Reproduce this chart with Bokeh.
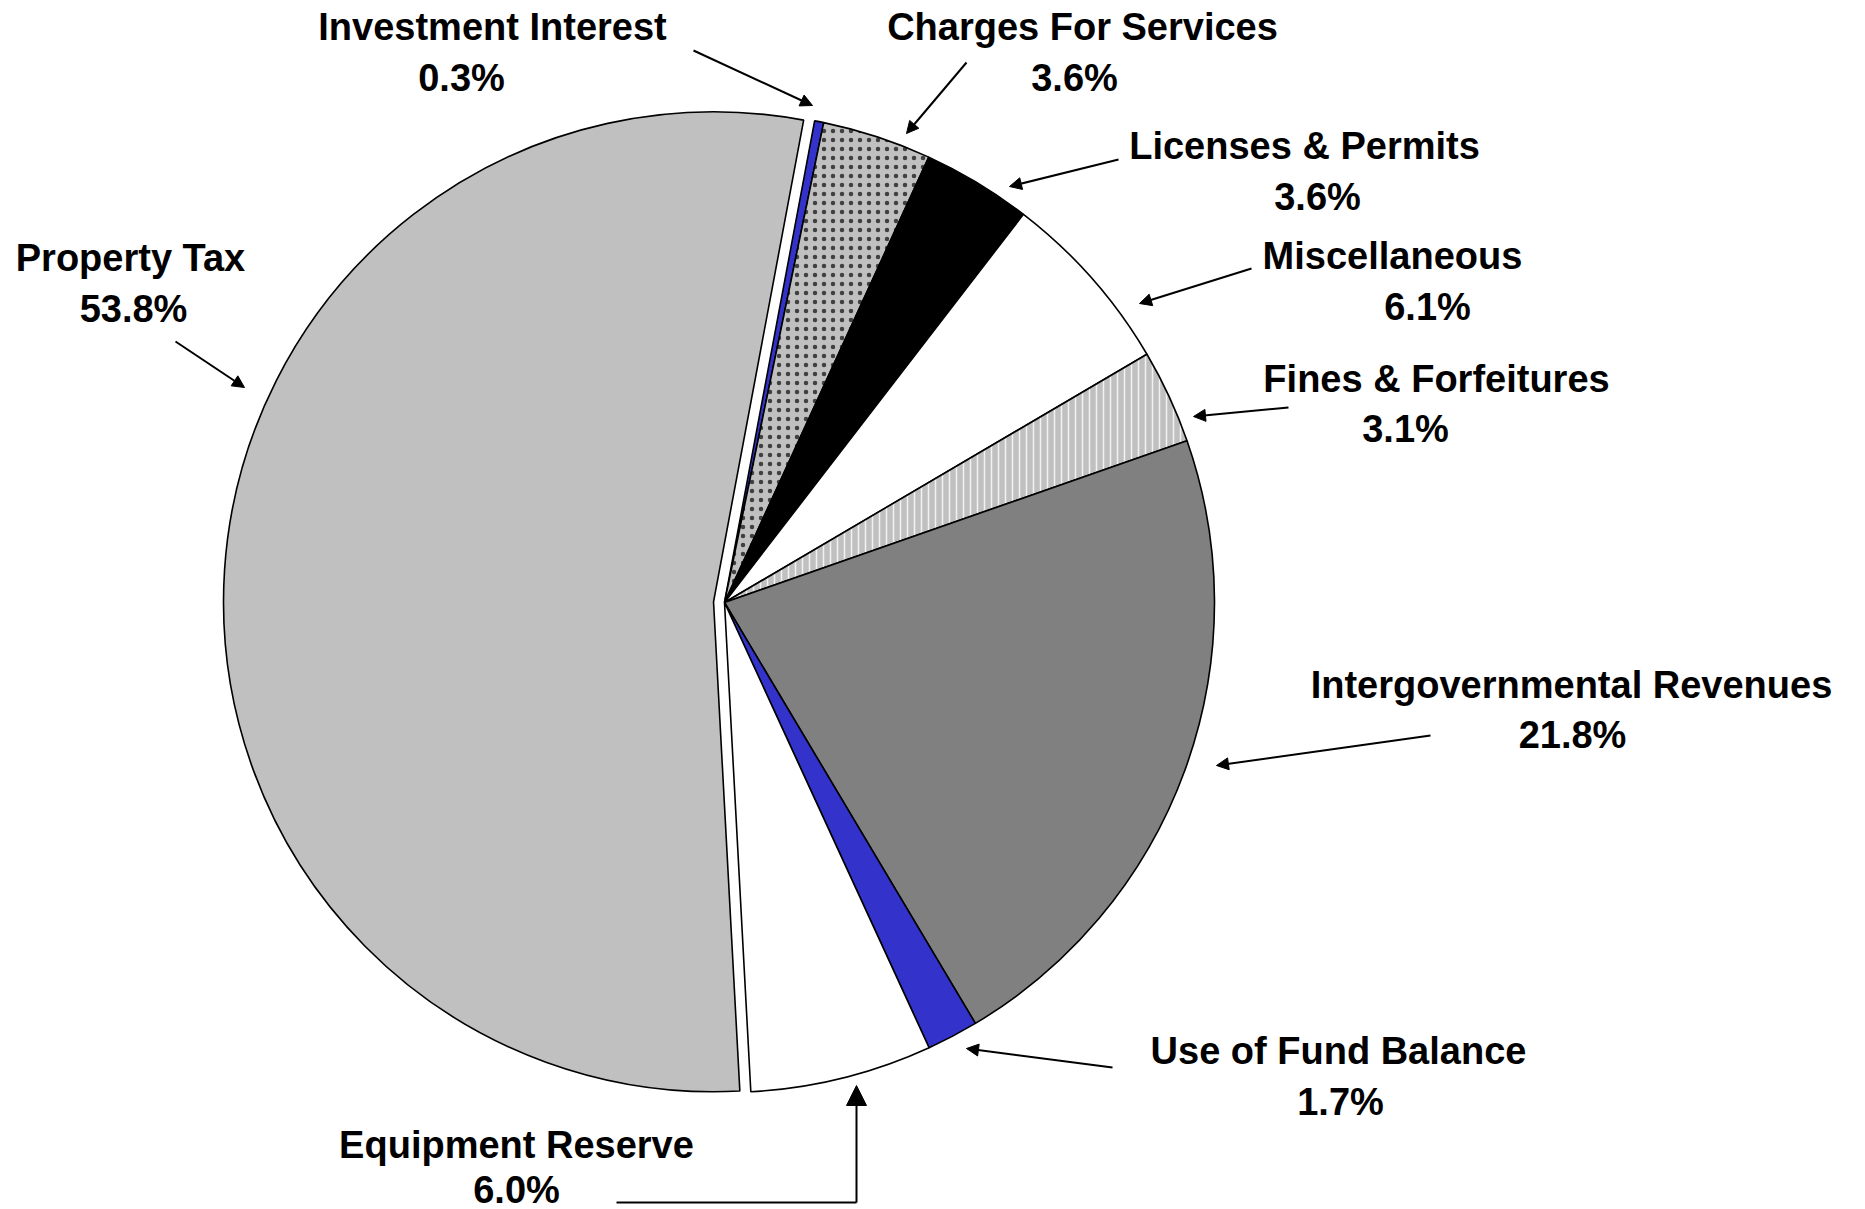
import numpy as np
from bokeh.plotting import figure
from bokeh.models import Range1d, Arrow, NormalHead, ColumnDataSource
from bokeh.core.properties import value
from bokeh.embed import file_html
from bokeh.resources import INLINE

# ---------------- data ----------------
categories = ["Investment Interest", "Charges For Services", "Licenses & Permits",
              "Miscellaneous", "Fines & Forfeitures", "Intergovernmental Revenues",
              "Use of Fund Balance", "Equipment Reserve", "Property Tax"]
values = [0.3, 3.6, 3.6, 6.1, 3.1, 21.8, 1.7, 6.0, 53.8]

# ---------------- styles ----------------
fills = ["#3333CC", "#C0C0C0", "#000000", "#FFFFFF", "#C0C0C0",
         "#808080", "#3333CC", "#FFFFFF", "#C0C0C0"]
hatches = [" ", "dot", " ", " ", "vertical_line", " ", " ", " ", " "]
hatch_colors = ["black", "#404040", "black", "black", "#F2F2F2",
                "black", "black", "black", "black"]
hatch_scales = [8, 9, 8, 8, 7, 8, 8, 8, 8]
hatch_weights = [1, 0.6, 1, 1, 1.5, 1, 1, 1, 1]
explode = [0, 0, 0, 0, 0, 0, 0, 0, 11]

W, H = 1865, 1209
CX, CY, R = 724, 602, 490          # screen px
START_CW = 10.6                    # first slice starts this many deg clockwise from top

def sy(Y):
    return H - Y

# label layout (screen px): name line centre, pct line centre
name_pos = [(492, 26), (1082, 26), (1304, 145), (1392, 255), (1436, 378),
            (1571, 684), (1338, 1050), (516, 1144), (130, 257)]
pct_pos = [(461, 77), (1074, 77), (1317, 196), (1427, 306), (1405, 428),
           (1572, 734), (1340, 1101), (516, 1189), (133, 308)]
# leader lines (screen px): start -> end (arrow at end)
leaders = [((693, 50), (812, 105)), ((966, 62), (906, 133)), ((1118, 159), (1009, 186)),
           ((1251, 268), (1139, 303)), ((1288, 407), (1193, 416)), ((1430, 735), (1216, 765)),
           ((1112, 1067), (966, 1048)), ((856, 1202), (856, 1085)), ((175, 341), (244, 387))]

vals = np.array(values, dtype=float)
cum = np.cumsum(vals) / vals.sum() * 360.0
cw_start = START_CW + np.concatenate([[0.0], cum[:-1]])
cw_end = START_CW + cum
a_start = np.radians(90.0 - cw_end)
a_end = np.radians(90.0 - cw_start)
mid = (a_start + a_end) / 2
xs = CX + np.array(explode) * np.cos(mid)
ys = sy(CY) + np.array(explode) * np.sin(mid)

src = ColumnDataSource(dict(x=xs, y=ys, start=a_start, end=a_end, fill=fills,
                            hatch=hatches, hcol=hatch_colors, hscale=hatch_scales,
                            hweight=hatch_weights, name=categories))

p = figure(width=W, height=H, x_range=Range1d(0, W), y_range=Range1d(0, H),
           output_backend="svg", toolbar_location=None, min_border=0)
p.axis.visible = False
p.grid.visible = False
p.outline_line_color = None
p.background_fill_color = "white"

p.wedge(x="x", y="y", radius=R, start_angle="start", end_angle="end", source=src,
        fill_color="fill", line_color="black", line_width=1.6,
        hatch_pattern="hatch", hatch_color="hcol", hatch_scale="hscale", hatch_weight="hweight")

pcts = [f"{v:.1f}%" for v in values]
tsrc = ColumnDataSource(dict(
    x=[q[0] for q in name_pos] + [q[0] for q in pct_pos],
    y=[sy(q[1]) for q in name_pos] + [sy(q[1]) for q in pct_pos],
    t=categories + pcts))
p.text(x="x", y="y", text="t", source=tsrc, text_align="center", text_baseline="middle",
       text_font=value("Liberation Sans"), text_font_style="bold", text_font_size="38px",
       text_color="black")

for i, ((x0, y0), (x1, y1)) in enumerate(leaders):
    big = categories[i] == "Equipment Reserve"
    head = NormalHead(size=20 if big else 12, fill_color="black", line_color="black", line_width=1)
    p.add_layout(Arrow(end=head, x_start=x0, y_start=sy(y0), x_end=x1, y_end=sy(y1),
                       line_width=2, line_color="black"))
    if big:
        p.line(x=[616, x0], y=[sy(1202), sy(1202)], line_width=2, line_color="black")

open("out.html", "w").write(file_html(p, INLINE))
